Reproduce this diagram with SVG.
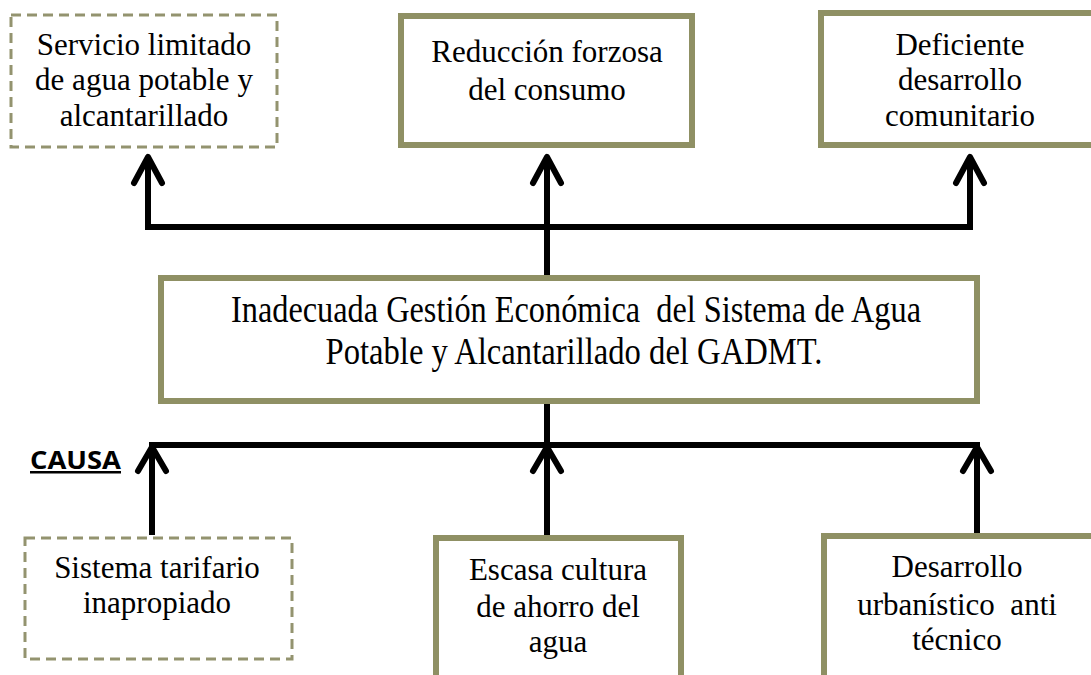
<svg xmlns="http://www.w3.org/2000/svg" width="1091" height="675" viewBox="0 0 1091 675">
<style>
.box{fill:#fff;stroke:#8f9064;stroke-width:6}
.dbox{fill:#fff;stroke:#93936f;stroke-width:3;stroke-dasharray:10 6}
.t{font-family:"Liberation Serif","Times New Roman",serif;font-size:31px;fill:#000;text-anchor:middle;white-space:pre}
.t.m{font-size:38px}
.c{stroke:#000;stroke-width:6;fill:none;stroke-linecap:round;stroke-linejoin:round}
.cl{stroke:#000;stroke-width:6;fill:none}
.causa{font-family:"Open Sans","Liberation Sans",sans-serif;font-weight:bold;font-size:25px;fill:#000;text-decoration:underline}
</style>
<rect width="1091" height="675" fill="#fff"/>
<g id="connectors">
<path class="cl" d="M148 227H970M148 230V158M970 230V158M547 275V158"/>
<polyline class="c" points="134,183 148,157 162,183"/>
<polyline class="c" points="533,183 547,157 561,183"/>
<polyline class="c" points="956,183 970,157 984,183"/>
<path class="cl" d="M547 404V445M149 445H980M152 535V448M547 537V448M977 535V448"/>
<polyline class="c" points="138,471 152,447 166,471"/>
<polyline class="c" points="533,471 547,447 561,471"/>
<polyline class="c" points="963,471 977,447 991,471"/>
</g>
<g id="n1"><rect class="dbox" x="11" y="15" width="266" height="132"/>
<text class="t" x="144" y="55">Servicio limitado</text><text class="t" x="144" y="90">de agua potable y</text><text class="t" x="144" y="126">alcantarillado</text></g>
<g id="n2"><rect class="box" x="401" y="16" width="291" height="129"/>
<text class="t" x="547" y="62">Reducción forzosa</text><text class="t" x="547" y="100">del consumo</text></g>
<g id="n3"><rect class="box" x="821" y="13" width="280" height="132"/>
<text class="t" x="960" y="55">Deficiente</text><text class="t" x="960" y="90">desarrollo</text><text class="t" x="960" y="126">comunitario</text></g>
<g id="main"><rect class="box" x="161" y="278" width="816" height="123"/>
<text class="t m" x="576" y="322" textLength="690" lengthAdjust="spacingAndGlyphs">Inadecuada Gestión Económica  del Sistema de Agua</text>
<text class="t m" x="574" y="364" textLength="497" lengthAdjust="spacingAndGlyphs">Potable y Alcantarillado del GADMT.</text></g>
<g id="causa"><text class="causa" x="30" y="469" textLength="91" lengthAdjust="spacingAndGlyphs">CAUSA</text></g>
<g id="c1"><rect class="dbox" x="25" y="538" width="267" height="121"/>
<text class="t" x="157" y="578">Sistema tarifario</text><text class="t" x="157" y="613">inapropiado</text></g>
<g id="c2"><rect class="box" x="436" y="538" width="245" height="160"/>
<text class="t" x="558" y="580">Escasa cultura</text><text class="t" x="558" y="617">de ahorro del</text><text class="t" x="558" y="652">agua</text></g>
<g id="c3"><rect class="box" x="824" y="536" width="280" height="160"/>
<text class="t" x="957" y="577">Desarrollo</text><text class="t" x="957" y="615">urbanístico  anti</text><text class="t" x="957" y="650">técnico</text></g>
</svg>
